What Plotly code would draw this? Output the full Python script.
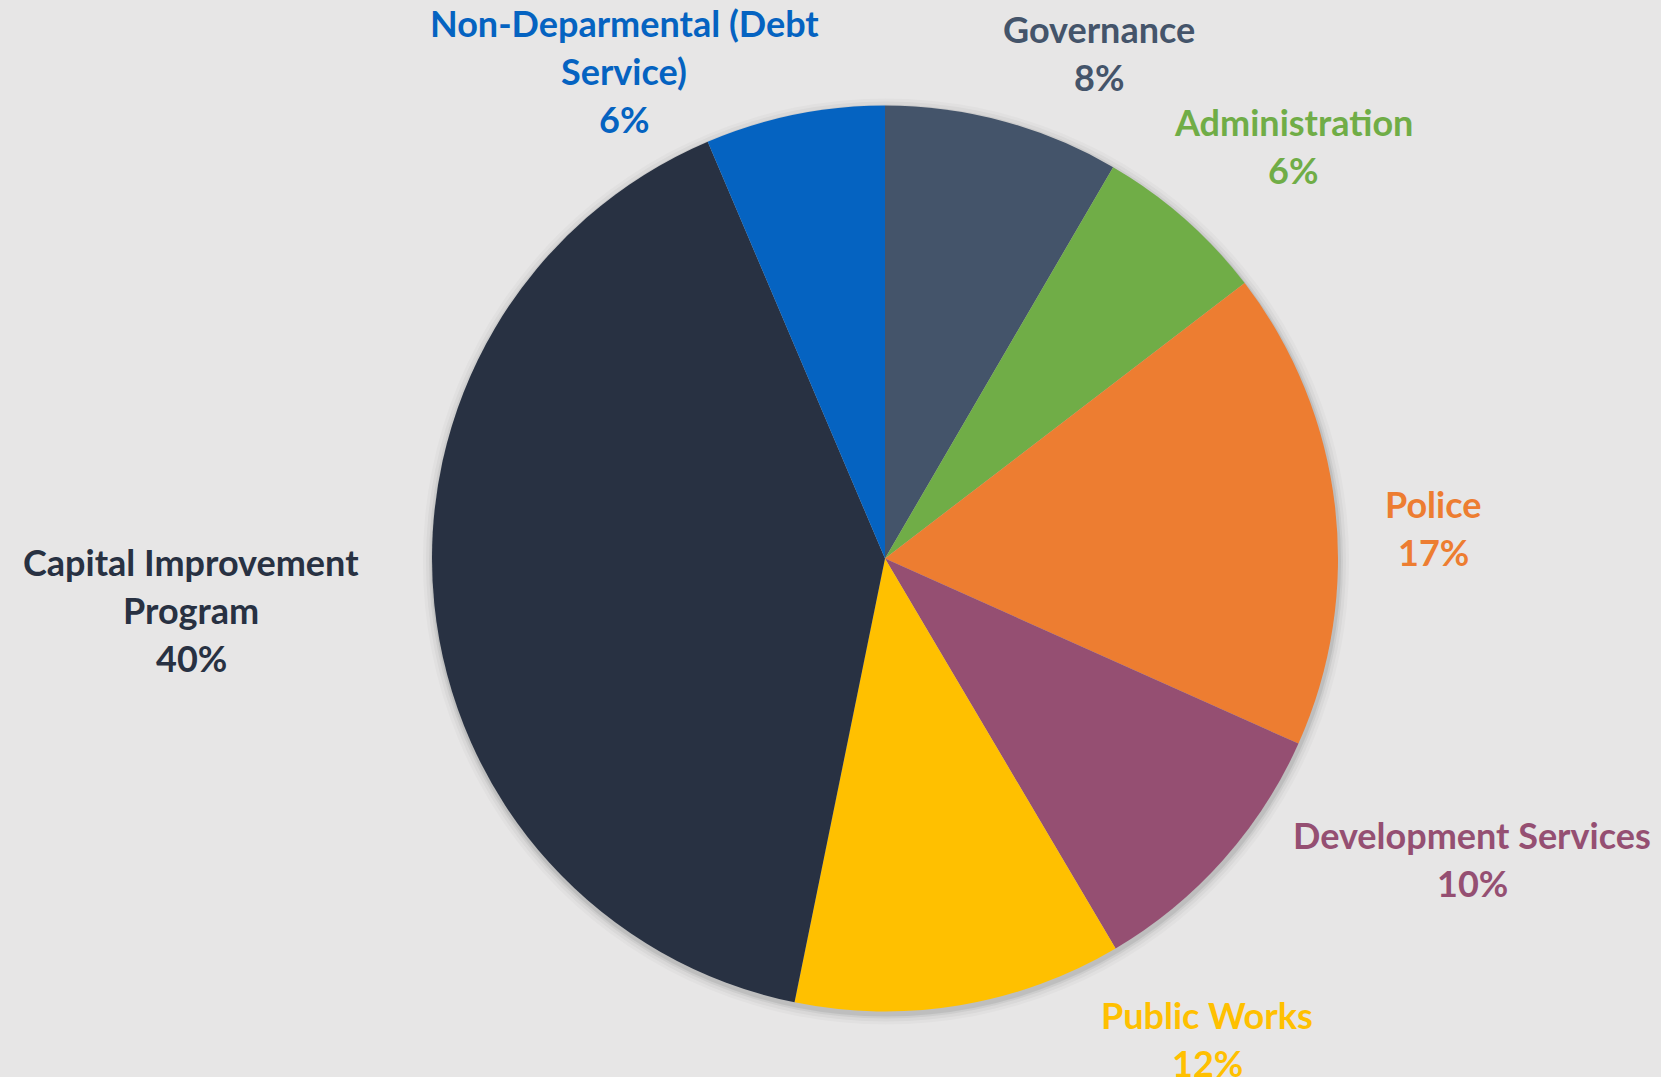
import plotly.graph_objects as go

# Budget shares by department (percent of total), clockwise from 12 o'clock
departments = [
    "Governance",
    "Administration",
    "Police",
    "Development Services",
    "Public Works",
    "Capital Improvement Program",
    "Non-Deparmental (Debt Service)",
]
shares = [8.4, 6.2, 17.1, 9.8, 11.7, 40.4, 6.4]

# How each department name is broken over lines in its label
label_lines = [
    ["Governance"],
    ["Administration"],
    ["Police"],
    ["Development Services"],
    ["Public Works"],
    ["Capital Improvement", "Program"],
    ["Non-Deparmental (Debt", "Service)"],
]

slice_colors = ["#44546A", "#70AD47", "#ED7D31", "#954F72", "#FFC000", "#283142", "#0563C1"]
label_colors = ["#44546A", "#70AD47", "#ED7D31", "#954F72", "#FFC000", "#283142", "#0563C1"]

# Label anchor (centre of first line) in pixels
label_anchor_px = [
    (1099, 29),
    (1293, 122),
    (1433, 504),
    (1472, 835),
    (1207, 1015),
    (191, 562),
    (624, 23),
]

W, H = 1661, 1077
BG = "#E7E6E6"
CX, CY, R = 885, 558.5, 453
LINE_PX = 48
FONT = "Lato"
FONT_SIZE = 36


def pie_domain(cx, cy, r):
    return dict(x=[(cx - r) / W, (cx + r) / W], y=[1 - (cy + r) / H, 1 - (cy - r) / H])


fig = go.Figure()

# Soft drop shadow behind the pie, built from faint stacked discs
for grow, alpha in [(10, 0.025), (7, 0.035), (4, 0.05), (2, 0.07)]:
    fig.add_trace(go.Pie(
        values=[1],
        domain=pie_domain(CX + 1, CY + 3, R + grow),
        marker=dict(colors=[f"rgba(0,0,0,{alpha})"], line=dict(width=0)),
        textinfo="none",
        hoverinfo="skip",
        showlegend=False,
        sort=False,
    ))

fig.add_trace(go.Pie(
    labels=departments,
    values=shares,
    domain=pie_domain(CX, CY, R),
    sort=False,
    direction="clockwise",
    rotation=0,
    marker=dict(colors=slice_colors, line=dict(width=0)),
    textinfo="none",
    hoverinfo="label+percent",
    showlegend=False,
))

total = sum(shares)
annotations = []
for lines, share, color, (ax, ay) in zip(label_lines, shares, label_colors, label_anchor_px):
    rows = lines + [f"{round(100 * share / total)}%"]
    for i, row in enumerate(rows):
        annotations.append(dict(
            x=ax / W,
            y=1 - (ay + i * LINE_PX) / H,
            xref="paper",
            yref="paper",
            text=f"<b>{row}</b>",
            showarrow=False,
            xanchor="center",
            yanchor="middle",
            font=dict(family=FONT, size=FONT_SIZE, color=color),
        ))

fig.update_layout(
    width=W,
    height=H,
    margin=dict(l=0, r=0, t=0, b=0),
    paper_bgcolor=BG,
    plot_bgcolor=BG,
    annotations=annotations,
)

fig.write_html("out.html")
